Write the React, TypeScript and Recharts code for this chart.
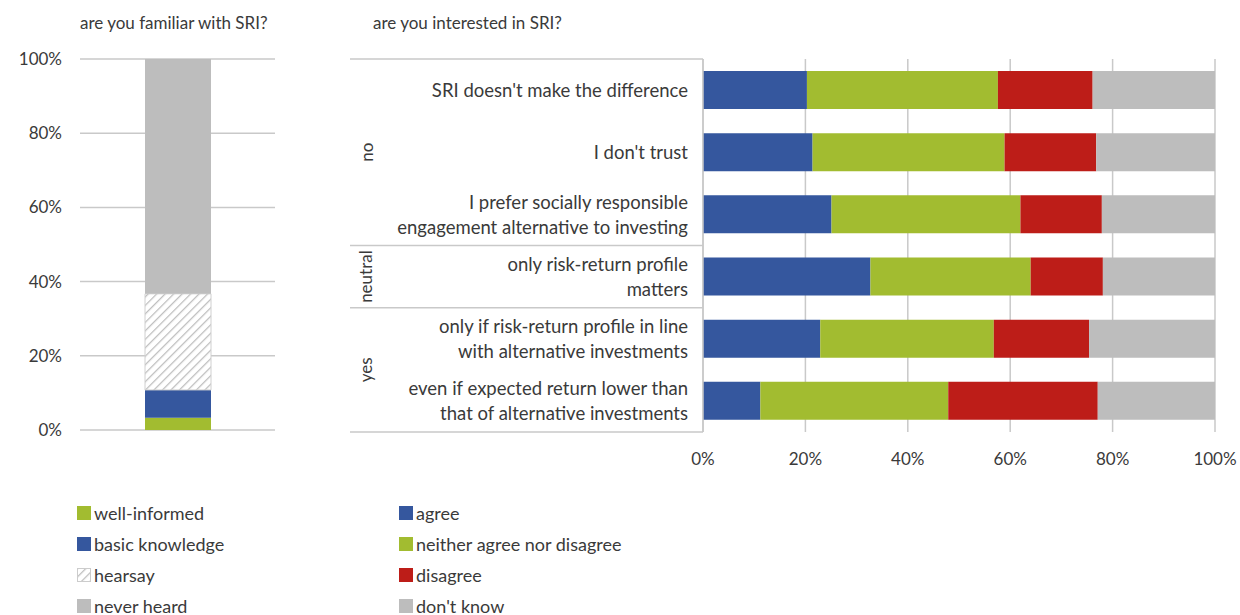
import { Bar, BarChart, CartesianGrid, XAxis, YAxis } from 'recharts';

// left chart: are you familiar with SRI?
const familiarSeries = ['well-informed', 'basic knowledge', 'hearsay', 'never heard'];
const familiarValues = [0.033, 0.075, 0.259, 0.633];

// right chart: are you interested in SRI?
const reasons = [
  "SRI doesn't make the difference",
  "I don't trust",
  'I prefer socially responsible\nengagement alternative to investing',
  'only risk-return profile\nmatters',
  'only if risk-return profile in line\nwith alternative investments',
  'even if expected return lower than\nthat of alternative investments',
];
const interestSeries = ['agree', 'neither agree nor disagree', 'disagree', "don't know"];
const agree = [0.203, 0.214, 0.251, 0.327, 0.229, 0.112];
const neither = [0.373, 0.375, 0.369, 0.313, 0.339, 0.367];
const disagree = [0.185, 0.179, 0.159, 0.141, 0.186, 0.292];
const dontKnow = [0.239, 0.232, 0.221, 0.219, 0.246, 0.229];
const groups = [
  { name: 'no', from: 0, to: 2 },
  { name: 'neutral', from: 3, to: 3 },
  { name: 'yes', from: 4, to: 5 },
];
const pctTicks = [0, 0.2, 0.4, 0.6, 0.8, 1];

const BLUE = '#35579e';
const GREEN = '#a2bc30';
const RED = '#bd1d18';
const GRAY = '#bdbdbd';
const GRID = '#c9c9c9';
const TEXT = '#3a3a3a';
const FONT = "Lato, 'Open Sans', sans-serif";

const familiarData = [
  {
    name: 'all',
    wellInformed: familiarValues[0],
    basic: familiarValues[1],
    hearsay: familiarValues[2],
    neverHeard: familiarValues[3],
  },
];

const interestData = reasons.map((r, i) => ({
  reason: r,
  agree: agree[i],
  neither: neither[i],
  disagree: disagree[i],
  dontKnow: dontKnow[i],
}));

const pct = (v: number) => `${Math.round(v * 100)}%`;

// right chart geometry (svg coords, chart starts at page x=340)
const R_TOP = 59;
const R_BOTTOM = 432;
const BAND = (R_BOTTOM - R_TOP) / reasons.length;
const LABEL_X = 348;
const LINE_X0 = 10;
const LINE_X1 = 363;

function ReasonTick(props: any) {
  const { y, payload } = props;
  const idx = reasons.indexOf(payload.value);
  const lines = String(payload.value).split('\n');
  const lh = 25;
  const y0 = y - ((lines.length - 1) * lh) / 2;
  const extras: any[] = [];
  groups.forEach((g) => {
    if (g.from === idx) {
      const top = y - BAND / 2;
      extras.push(
        <line key={'t' + g.name} x1={LINE_X0} x2={LINE_X1} y1={top} y2={top} stroke={GRID} strokeWidth={1.5} />
      );
      const cy = y + ((g.from + g.to) / 2 - idx) * BAND;
      extras.push(
        <text
          key={'g' + g.name}
          x={26}
          y={cy}
          transform={`rotate(-90 26 ${cy})`}
          textAnchor="middle"
          dominantBaseline="central"
          fontSize={17}
          fill={TEXT}
          fontFamily={FONT}
        >
          {g.name}
        </text>
      );
    }
  });
  if (idx === reasons.length - 1) {
    const bot = y + BAND / 2;
    extras.push(<line key="bot" x1={LINE_X0} x2={LINE_X1} y1={bot} y2={bot} stroke={GRID} strokeWidth={1.5} />);
  }
  return (
    <g>
      {extras}
      <text textAnchor="end" fontSize={18.5} fill={TEXT} fontFamily={FONT} dominantBaseline="central">
        {lines.map((l, i) => (
          <tspan key={i} x={LABEL_X} y={y0 + i * lh}>
            {l}
          </tspan>
        ))}
      </text>
    </g>
  );
}

function HatchDefs({ id }: { id: string }) {
  return (
    <defs>
      <pattern id={id} width={6} height={6} patternUnits="userSpaceOnUse" patternTransform="rotate(45)">
        <rect width={6} height={6} fill="#fff" />
        <line x1={0} y1={0} x2={0} y2={6} stroke="#bdbdbd" strokeWidth={2.5} />
      </pattern>
    </defs>
  );
}

function LegendBox({ items, colors, left }: { items: string[]; colors: string[]; left: number }) {
  return (
    <div style={{ position: 'absolute', left, top: 497, fontFamily: FONT, fontSize: 18, lineHeight: '20px', color: TEXT }}>
      {items.map((it, i) => (
        <div key={it} style={{ display: 'flex', alignItems: 'center', height: 31 }}>
          <svg width={14} height={14} style={{ marginRight: 3 }}>
            {colors[i] === 'hatch' ? (
              <>
                <HatchDefs id="hatchLegend" />
                <rect x={0.5} y={0.5} width={13} height={13} fill="url(#hatchLegend)" stroke="#ccc" />
              </>
            ) : (
              <rect width={14} height={14} fill={colors[i]} />
            )}
          </svg>
          <span>{it}</span>
        </div>
      ))}
    </div>
  );
}

export default function App() {
  return (
    <div style={{ position: 'absolute', left: 0, top: 0, width: 1240, height: 615, background: '#fff', fontFamily: FONT }}>
      <div style={{ position: 'absolute', left: 80, top: 12, fontSize: 17, color: TEXT }}>are you familiar with SRI?</div>
      <div style={{ position: 'absolute', left: 373, top: 12, fontSize: 17, color: TEXT }}>are you interested in SRI?</div>

      <div style={{ position: 'absolute', left: 0, top: 0 }}>
        <BarChart width={300} height={460} data={familiarData} margin={{ top: 59, right: 25, bottom: 30, left: 0 }}>
          <HatchDefs id="hatch" />
          <CartesianGrid vertical={false} stroke={GRID} strokeWidth={1.5} />
          <XAxis dataKey="name" hide />
          <YAxis
            width={80}
            domain={[0, 1]}
            ticks={pctTicks}
            tickFormatter={pct}
            axisLine={false}
            tickLine={false}
            tickSize={0}
            tickMargin={18}
            tick={{ fill: TEXT, fontSize: 17, fontFamily: FONT }}
          />
          <Bar dataKey="wellInformed" stackId="a" fill={GREEN} barSize={66} isAnimationActive={false} />
          <Bar dataKey="basic" stackId="a" fill={BLUE} barSize={66} isAnimationActive={false} />
          <Bar dataKey="hearsay" stackId="a" fill="url(#hatch)" stroke="#d0d0d0" barSize={66} isAnimationActive={false} />
          <Bar dataKey="neverHeard" stackId="a" fill={GRAY} barSize={66} isAnimationActive={false} />
        </BarChart>
      </div>

      <div style={{ position: 'absolute', left: 340, top: 0 }}>
        <BarChart
          width={900}
          height={480}
          data={interestData}
          layout="vertical"
          margin={{ top: R_TOP, right: 25, bottom: 0, left: 0 }}
        >
          <CartesianGrid horizontal={false} stroke={GRID} strokeWidth={1.5} />
          <XAxis
            type="number"
            domain={[0, 1]}
            ticks={pctTicks}
            tickFormatter={pct}
            height={48}
            axisLine={false}
            tickLine={false}
            tickMargin={15}
            tick={{ fill: TEXT, fontSize: 17, fontFamily: FONT }}
          />
          <YAxis
            type="category"
            dataKey="reason"
            width={363}
            axisLine={{ stroke: GRID, strokeWidth: 1.5 }}
            tickLine={false}
            tick={<ReasonTick />}
            interval={0}
          />
          <Bar dataKey="agree" stackId="b" fill={BLUE} barSize={38} isAnimationActive={false} />
          <Bar dataKey="neither" stackId="b" fill={GREEN} barSize={38} isAnimationActive={false} />
          <Bar dataKey="disagree" stackId="b" fill={RED} barSize={38} isAnimationActive={false} />
          <Bar dataKey="dontKnow" stackId="b" fill={GRAY} barSize={38} isAnimationActive={false} />
        </BarChart>
      </div>

      <LegendBox items={familiarSeries} colors={[GREEN, BLUE, 'hatch', GRAY]} left={77} />
      <LegendBox items={interestSeries} colors={[BLUE, GREEN, RED, GRAY]} left={399} />
    </div>
  );
}
